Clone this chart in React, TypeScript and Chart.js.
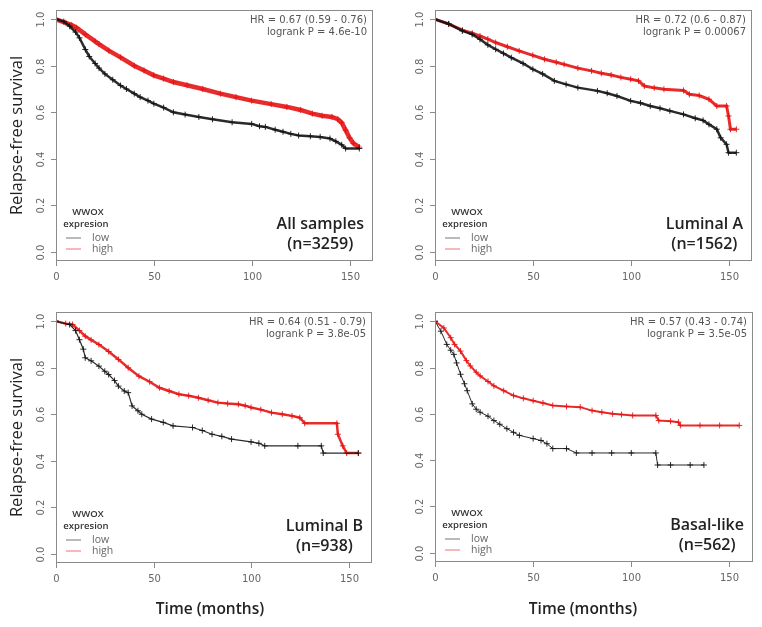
import React, { useEffect, useRef } from "react";
import { Chart, registerables } from "chart.js";
Chart.register(...registerables);

// ---------- shared labels / ticks ----------
const xTicks = [0, 50, 100, 150];
const yTicks = [0, 0.2, 0.4, 0.6, 0.8, 1.0];
const yTickLabels = ["0.0", "0.2", "0.4", "0.6", "0.8", "1.0"];
const legendTitle = ["WWOX", "expresion"];
const groupNames = ["low", "high"];
const yTitle = "Relapse-free survival";
const xTitle = "Time (months)";

// ---------- panel 1: All samples ----------
const allLowT = [0, 4, 7, 10, 12, 15, 17, 20, 22, 25, 29, 33, 36, 40, 43, 47, 50, 55, 60, 66, 73, 80, 90, 100, 104, 107, 112, 116, 120, 124, 130, 135, 140, 143, 146, 148, 155];
const allLowS = [1.0, 0.99, 0.97, 0.945, 0.92, 0.87, 0.84, 0.81, 0.79, 0.765, 0.74, 0.715, 0.7, 0.68, 0.665, 0.65, 0.637, 0.62, 0.6, 0.59, 0.58, 0.57, 0.557, 0.55, 0.54, 0.537, 0.525, 0.516, 0.507, 0.5, 0.497, 0.494, 0.487, 0.475, 0.46, 0.444, 0.444];
const allHighT = [0, 5, 8, 10.5, 15, 20, 22, 27, 33, 40, 45, 50, 55, 60, 67, 75, 84, 92, 100, 110, 118, 125, 131, 136, 141, 144, 146, 148, 150, 152, 155];
const allHighS = [1.0, 0.985, 0.975, 0.964, 0.935, 0.905, 0.893, 0.865, 0.836, 0.8, 0.78, 0.759, 0.745, 0.73, 0.716, 0.7, 0.68, 0.665, 0.65, 0.635, 0.623, 0.61, 0.594, 0.585, 0.58, 0.57, 0.555, 0.523, 0.49, 0.466, 0.45];

// ---------- panel 2: Luminal A ----------
const lumALowT = [0, 7, 14, 19, 23, 27, 31, 35, 39, 45, 50, 55, 61, 67, 73, 83, 88, 93, 100, 105, 110, 115, 120, 127, 133, 137, 140, 144, 146, 149, 150, 154];
const lumALowS = [1.0, 0.98, 0.95, 0.935, 0.914, 0.89, 0.871, 0.853, 0.835, 0.81, 0.785, 0.765, 0.735, 0.72, 0.706, 0.692, 0.682, 0.67, 0.649, 0.64, 0.627, 0.617, 0.606, 0.591, 0.574, 0.565, 0.548, 0.527, 0.49, 0.462, 0.426, 0.426];
const lumAHighT = [0, 7, 14, 19, 23, 27, 31, 37, 43, 50, 56, 62, 66, 73, 80, 85, 90, 95, 100, 104, 107, 112, 117, 127, 130, 135, 140, 144, 149, 150, 151, 154];
const lumAHighS = [1.0, 0.98, 0.953, 0.94, 0.928, 0.915, 0.9, 0.882, 0.864, 0.845, 0.828, 0.815, 0.806, 0.79, 0.778, 0.768, 0.76, 0.75, 0.742, 0.735, 0.713, 0.705, 0.699, 0.694, 0.677, 0.672, 0.656, 0.627, 0.627, 0.584, 0.527, 0.527];

// ---------- panel 3: Luminal B ----------
const lumBLowT = [0, 7, 10, 12, 14, 15, 18, 22, 25, 27, 30, 32, 35, 37, 39, 42, 44, 49, 55, 60, 70, 75, 80, 85, 90, 100, 104, 107, 124, 136, 137, 155];
const lumBLowS = [1.0, 0.986, 0.96, 0.921, 0.88, 0.843, 0.83, 0.807, 0.785, 0.771, 0.745, 0.721, 0.7, 0.693, 0.636, 0.615, 0.6, 0.579, 0.565, 0.55, 0.543, 0.53, 0.514, 0.505, 0.493, 0.481, 0.475, 0.464, 0.464, 0.464, 0.433, 0.433];
const lumBHighT = [0, 5, 8.5, 12, 15, 18, 22, 27, 32, 37, 42.5, 48, 53, 58, 63, 68, 73, 78, 83, 88, 93.5, 97, 100, 105, 110.5, 116, 121, 125, 127.5, 144, 144.5, 147, 149, 155];
const lumBHighS = [1.0, 0.99, 0.986, 0.96, 0.936, 0.92, 0.9, 0.87, 0.836, 0.8, 0.764, 0.74, 0.714, 0.7, 0.686, 0.68, 0.671, 0.66, 0.65, 0.646, 0.643, 0.637, 0.629, 0.62, 0.607, 0.6, 0.593, 0.585, 0.561, 0.561, 0.514, 0.464, 0.433, 0.433];

// ---------- panel 4: Basal-like ----------
const basalLowT = [0, 3, 6, 8, 9.6, 11, 13, 15, 16.4, 19, 21, 23, 27, 30, 33, 36.6, 40, 43, 50, 54, 57, 60, 67, 72, 80, 90, 100, 112.5, 113.4, 120, 130, 137];
const basalLowS = [1.0, 0.957, 0.9, 0.875, 0.857, 0.82, 0.771, 0.73, 0.7, 0.643, 0.62, 0.607, 0.59, 0.571, 0.555, 0.536, 0.52, 0.507, 0.493, 0.485, 0.471, 0.45, 0.45, 0.431, 0.431, 0.431, 0.431, 0.431, 0.379, 0.379, 0.379, 0.379];
const basalHighT = [0, 4.5, 8, 10, 13, 16, 18, 21, 23, 27, 30, 35, 40, 45, 50, 55, 60, 67, 74, 80, 85, 90.5, 95, 100.7, 112.5, 114, 120, 124, 125, 135, 145, 155];
const basalHighS = [1.0, 0.971, 0.929, 0.9, 0.871, 0.83, 0.807, 0.78, 0.764, 0.74, 0.721, 0.7, 0.679, 0.667, 0.657, 0.647, 0.636, 0.632, 0.629, 0.614, 0.607, 0.6, 0.597, 0.593, 0.593, 0.571, 0.568, 0.564, 0.55, 0.55, 0.55, 0.55];

// ---------- panel texts ----------
const subgroupNames = ["All samples", "Luminal A", "Luminal B", "Basal-like"];
const subgroupN = ["(n=3259)", "(n=1562)", "(n=938)", "(n=562)"];
const hrTexts = ["HR = 0.67 (0.59 - 0.76)", "HR = 0.72 (0.6 - 0.87)", "HR = 0.64 (0.51 - 0.79)", "HR = 0.57 (0.43 - 0.74)"];
const pTexts = ["logrank P = 4.6e-10", "logrank P = 0.00067", "logrank P = 3.8e-05", "logrank P = 3.5e-05"];

const toPts = (t: number[], s: number[]) => t.map((x, i) => ({ x, y: s[i] }));

type PanelCfg = {
  idx: number;
  left: number; top: number; width: number; height: number;
  pad: { left: number; right: number; top: number; bottom: number };
  lowT: number[]; lowS: number[]; highT: number[]; highS: number[];
  lowW: number; highW: number; ptR: number;
  showYTitle: boolean; showXTitle: boolean; xTitleX: number;
};

const panels: PanelCfg[] = [
  { idx: 0, left: 0, top: 0, width: 381, height: 300, pad: { left: 56, right: 8, top: 10, bottom: 39 },
    lowT: allLowT, lowS: allLowS, highT: allHighT, highS: allHighS, lowW: 2.5, highW: 4.5, ptR: 3,
    showYTitle: true, showXTitle: false, xTitleX: 0 },
  { idx: 1, left: 381, top: 0, width: 381, height: 300, pad: { left: 54, right: 10, top: 10, bottom: 39 },
    lowT: lumALowT, lowS: lumALowS, highT: lumAHighT, highS: lumAHighS, lowW: 2.5, highW: 3, ptR: 3,
    showYTitle: false, showXTitle: false, xTitleX: 0 },
  { idx: 2, left: 0, top: 300, width: 381, height: 327, pad: { left: 56, right: 9, top: 12, bottom: 64 },
    lowT: lumBLowT, lowS: lumBLowS, highT: lumBHighT, highS: lumBHighS, lowW: 1.2, highW: 2.5, ptR: 3,
    showYTitle: true, showXTitle: true, xTitleX: 210 },
  { idx: 3, left: 381, top: 300, width: 381, height: 327, pad: { left: 54, right: 9, top: 12, bottom: 65 },
    lowT: basalLowT, lowS: basalLowS, highT: basalHighT, highS: basalHighS, lowW: 1, highW: 2, ptR: 3,
    showYTitle: false, showXTitle: true, xTitleX: 202 },
];

const LOW_COLOR = "rgba(20,20,20,0.9)";
const HIGH_COLOR = "rgba(230,20,20,0.9)";

function Panel({ cfg }: { cfg: PanelCfg }) {
  const ref = useRef<HTMLCanvasElement | null>(null);
  useEffect(() => {
    if (!ref.current) return;
    const deco = {
      id: "kmDeco",
      afterDraw(chart: any) {
        const ctx = chart.ctx as CanvasRenderingContext2D;
        const { left, right, top, bottom } = chart.chartArea;
        const xs = chart.scales.x;
        const ys = chart.scales.y;
        ctx.save();
        // frame
        ctx.strokeStyle = "#8a8a8a";
        ctx.lineWidth = 1;
        ctx.strokeRect(Math.round(left) + 0.5, Math.round(top) + 0.5, Math.round(right - left) - 1, Math.round(bottom - top) - 1);
        // x ticks
        ctx.fillStyle = "#666";
        ctx.font = "10px 'DejaVu Sans'";
        ctx.textAlign = "center";
        ctx.textBaseline = "middle";
        xTicks.forEach((v) => {
          const px = Math.round(xs.getPixelForValue(v)) + 0.5;
          ctx.beginPath();
          ctx.moveTo(px, bottom);
          ctx.lineTo(px, bottom + 5);
          ctx.stroke();
          ctx.fillText(String(v), px, bottom + 16);
        });
        // y ticks (rotated labels)
        yTicks.forEach((v, i) => {
          const py = Math.round(ys.getPixelForValue(v)) + 0.5;
          ctx.beginPath();
          ctx.moveTo(left - 5, py);
          ctx.lineTo(left, py);
          ctx.stroke();
          ctx.save();
          ctx.translate(left - 15, py);
          ctx.rotate(-Math.PI / 2);
          ctx.fillText(yTickLabels[i], 0, 0);
          ctx.restore();
        });
        // HR / logrank
        ctx.fillStyle = "#555";
        ctx.font = "10px 'DejaVu Sans'";
        ctx.textAlign = "right";
        ctx.fillText(hrTexts[cfg.idx], right - 6, top + 10);
        ctx.fillText(pTexts[cfg.idx], right - 6, top + 22);
        // subgroup label
        ctx.fillStyle = "#222";
        ctx.font = "600 16px 'Open Sans'";
        const w = Math.max(ctx.measureText(subgroupNames[cfg.idx]).width, ctx.measureText(subgroupN[cfg.idx]).width);
        const cx = right - 9 - w / 2;
        ctx.textAlign = "center";
        ctx.fillText(subgroupNames[cfg.idx], cx, bottom - 37);
        ctx.fillText(subgroupN[cfg.idx], cx, bottom - 17);
        // legend
        ctx.fillStyle = "#333";
        ctx.font = "600 9.5px 'Open Sans'";
        ctx.fillText(legendTitle[0], left + 32, bottom - 49);
        ctx.fillText(legendTitle[1], left + 30, bottom - 37);
        ctx.font = "10.5px 'Open Sans'";
        ctx.fillStyle = "#666";
        ctx.textAlign = "left";
        const rows = [bottom - 23, bottom - 12];
        const cols = ["#777", "#f07070"];
        rows.forEach((ry, i) => {
          ctx.strokeStyle = cols[i];
          ctx.lineWidth = 1;
          ctx.beginPath();
          ctx.moveTo(left + 10, ry);
          ctx.lineTo(left + 25, ry);
          ctx.stroke();
          ctx.fillText(groupNames[i], left + 36, ry);
        });
        // axis titles
        ctx.fillStyle = "#222";
        if (cfg.showYTitle) {
          ctx.save();
          ctx.font = "16.5px 'Open Sans'";
          ctx.textAlign = "center";
          ctx.translate(17, (top + bottom) / 2);
          ctx.rotate(-Math.PI / 2);
          ctx.fillText(yTitle, 0, 0);
          ctx.restore();
        }
        if (cfg.showXTitle) {
          ctx.font = "600 15.5px 'Open Sans'";
          ctx.textAlign = "center";
          ctx.fillText(xTitle, cfg.xTitleX, 310);
        }
        ctx.restore();
      },
    };
    const chart = new Chart(ref.current, {
      type: "line",
      data: {
        datasets: [
          {
            label: groupNames[0],
            data: toPts(cfg.lowT, cfg.lowS),
            borderColor: LOW_COLOR,
            borderWidth: cfg.lowW,
            pointStyle: "cross",
            pointRadius: cfg.ptR,
            pointBorderColor: LOW_COLOR,
            pointBorderWidth: 1,
            tension: 0,
            fill: false,
          },
          {
            label: groupNames[1],
            data: toPts(cfg.highT, cfg.highS),
            borderColor: HIGH_COLOR,
            borderWidth: cfg.highW,
            pointStyle: "cross",
            pointRadius: cfg.ptR,
            pointBorderColor: HIGH_COLOR,
            pointBorderWidth: 1,
            tension: 0,
            fill: false,
          },
        ],
      },
      options: {
        responsive: false,
        animation: false,
        devicePixelRatio: 1,
        layout: { padding: cfg.pad },
        plugins: { legend: { display: false }, tooltip: { enabled: false } },
        scales: {
          x: { type: "linear", min: 0, max: 162, display: false },
          y: { type: "linear", min: -0.04, max: 1.04, display: false },
        },
      },
      plugins: [deco],
    } as any);
    return () => chart.destroy();
  }, [cfg]);
  return (
    <canvas
      ref={ref}
      width={cfg.width}
      height={cfg.height}
      style={{ position: "absolute", left: cfg.left, top: cfg.top, width: cfg.width, height: cfg.height }}
    />
  );
}

export default function App() {
  return (
    <div style={{ position: "absolute", left: 0, top: 0, width: 762, height: 627, background: "#fff" }}>
      {panels.map((p) => (
        <Panel key={p.idx} cfg={p} />
      ))}
    </div>
  );
}
